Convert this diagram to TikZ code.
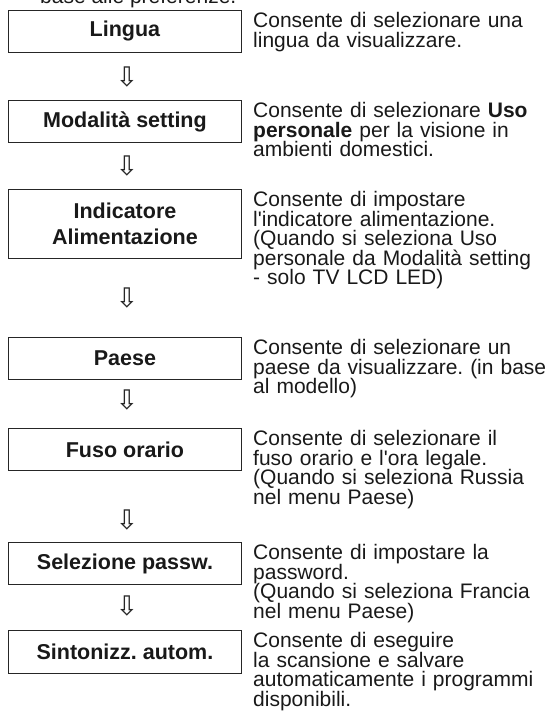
\documentclass[tikz,border=0pt]{standalone}
\usepackage{fontspec}
\setmainfont{Liberation Sans}
\newfontfamily\arrowfont{DejaVu Sans}
\frenchspacing
\newcommand\descfont{\fontsize{21pt}{19.5pt}\selectfont\lineskiplimit=-50pt\relax}
\newcommand\labfont{\fontsize{21.5pt}{26pt}\selectfont\bfseries\lineskiplimit=-50pt\relax}
\begin{document}
\begin{tikzpicture}[x=1pt,y=-1pt,
  stepbox/.style={draw=black!85, line width=0.9pt, minimum width=233pt, minimum height=42pt,
    inner sep=0pt, font=\labfont, align=center, anchor=north west, text=black!90},
  desc/.style={anchor=base west, inner sep=0pt, text width=300pt, align=left,
    font=\descfont, text=black!90},
  flow/.style={inner sep=0pt, font=\arrowfont\fontsize{27pt}{27pt}\selectfont, text=black!85}
]
\useasboundingbox (0,0) rectangle (545,726);
\clip (0,0) rectangle (545,726);

\node[anchor=base west, inner sep=0pt, font=\descfont, text=black!90] (intro) at (40,3) {base alle preferenze.};

\node[stepbox] (lingua) at (8,10) {Lingua};
\node[desc] (dlingua) at (253,27.5) {Consente di selezionare una\\lingua da visualizzare.};
\node[flow] (a1) at (127,77) {⇩};

\node[stepbox] (modal) at (8,100) {Modalità setting};
\node[desc] (dmodal) at (253,117.5) {Consente di selezionare \textbf{Uso}\\\textbf{personale} per la visione in\\ambienti domestici.};
\node[flow] (a2) at (127,165.5) {⇩};

\node[stepbox, minimum height=69pt] (indic) at (8,189) {Indicatore\\Alimentazione};
\node[desc] (dindic) at (253,206.5) {Consente di impostare\\l\textquotesingle indicatore alimentazione.\\(Quando si seleziona Uso\\personale da Modalità setting\\- solo TV LCD LED)};
\node[flow] (a3) at (127,298) {⇩};

\node[stepbox] (paese) at (8,337) {Paese};
\node[desc] (dpaese) at (253,354.5) {Consente di selezionare un\\paese da visualizzare. (in base\\al modello)};
\node[flow] (a4) at (127,400) {⇩};

\node[stepbox] (fuso) at (8,428) {Fuso orario};
\node[desc] (dfuso) at (253,445.5) {Consente di selezionare il\\fuso orario e l\textquotesingle ora legale.\\(Quando si seleziona Russia\\nel menu Paese)};
\node[flow] (a5) at (127,520) {⇩};

\node[stepbox] (selez) at (8,542) {Selezione passw.};
\node[desc] (dselez) at (253,559.5) {Consente di impostare la\\password.\\(Quando si seleziona Francia\\nel menu Paese)};
\node[flow] (a6) at (127,606) {⇩};

\node[stepbox, minimum height=43pt] (sinton) at (8,630) {Sintonizz. autom.};
\node[desc] (dsinton) at (253,647.5) {Consente di eseguire\\la scansione e salvare\\automaticamente i programmi\\disponibili.};
\end{tikzpicture}
\end{document}
